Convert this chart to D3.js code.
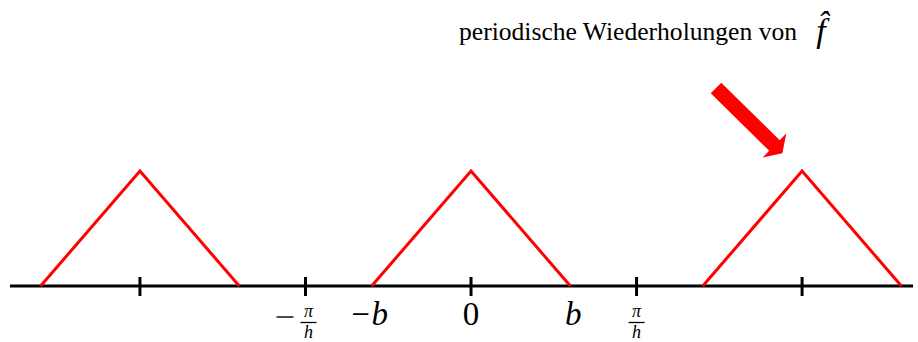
<!DOCTYPE html>
<html lang="en">
<head>
    <meta charset="UTF-8">
    <title>Periodische Wiederholungen</title>
    <script src="https://d3js.org/d3.v7.min.js"></script>
    <style>
        body { margin: 0; background: #fff; }
        text { font-family: 'Times New Roman', 'Liberation Serif', 'DejaVu Serif', serif; }
    </style>
</head>
<body>
    <script>
        // positions in units of pi/h
        const centers = [-2, 0, 2];
        const halfWidth = 0.6;          // b
        const peak = 1;
        const ticks = [-2, -1, 0, 1, 2];
        const titleText = 'periodische Wiederholungen von';

        const width = 918, height = 342;

        const svg = d3.select('body').append('svg')
            .attr('width', width)
            .attr('height', height);

        const xScale = d3.scaleLinear().domain([-2.785, 2.67]).range([10, 913]);
        const yScale = d3.scaleLinear().domain([0, 1]).range([286, 171]);

        // axis line
        svg.append('line')
            .attr('x1', xScale.range()[0]).attr('x2', xScale.range()[1])
            .attr('y1', yScale(0)).attr('y2', yScale(0))
            .attr('stroke', '#000').attr('stroke-width', 3);

        svg.selectAll('.tick')
            .data(ticks)
            .enter().append('line')
            .attr('class', 'tick')
            .attr('x1', d => xScale(d)).attr('x2', d => xScale(d))
            .attr('y1', yScale(0) - 9).attr('y2', yScale(0) + 10)
            .attr('stroke', '#000').attr('stroke-width', 3);

        // triangles
        const line = d3.line().x(d => xScale(d[0])).y(d => yScale(d[1]));
        svg.selectAll('.tri')
            .data(centers)
            .enter().append('path')
            .attr('class', 'tri')
            .attr('d', c => line([[c - halfWidth, 0], [c, peak], [c + halfWidth, 0]]))
            .attr('fill', 'none')
            .attr('stroke', '#ff0000')
            .attr('stroke-width', 3)
            .attr('stroke-linejoin', 'miter');

        // labels
        const baseY = 325;
        svg.append('text')
            .attr('x', xScale(0)).attr('y', baseY)
            .attr('text-anchor', 'middle').attr('font-size', 33)
            .text('0');
        svg.append('text')
            .attr('x', xScale(halfWidth) + 3).attr('y', baseY)
            .attr('text-anchor', 'middle').attr('font-size', 33).attr('font-style', 'italic')
            .text('b');
        svg.append('text')
            .attr('x', xScale(-halfWidth) - 3).attr('y', baseY)
            .attr('text-anchor', 'middle').attr('font-size', 33).attr('font-style', 'italic')
            .text('−b');

        function fraction(x) {
            const g = svg.append('g').attr('transform', `translate(${x},0)`);
            g.append('text')
                .attr('x', 0).attr('y', 317)
                .attr('text-anchor', 'middle').attr('font-size', 18).attr('font-style', 'italic')
                .text('π');
            g.append('line')
                .attr('x1', -8).attr('x2', 8)
                .attr('y1', 322.5).attr('y2', 322.5)
                .attr('stroke', '#000').attr('stroke-width', 1.3);
            g.append('text')
                .attr('x', 0).attr('y', 337.5)
                .attr('text-anchor', 'middle').attr('font-size', 18).attr('font-style', 'italic')
                .text('h');
            return g;
        }
        fraction(xScale(1));
        fraction(xScale(-1) + 3);
        svg.append('line')
            .attr('x1', xScale(-1) - 29).attr('x2', xScale(-1) - 12)
            .attr('y1', 317).attr('y2', 317)
            .attr('stroke', '#000').attr('stroke-width', 1.4);

        // title
        svg.append('text')
            .attr('x', 459).attr('y', 40)
            .attr('font-size', 25)
            .attr('textLength', 338)
            .attr('lengthAdjust', 'spacingAndGlyphs')
            .text(titleText);
        svg.append('text')
            .attr('x', 821).attr('y', 42)
            .attr('text-anchor', 'middle')
            .attr('font-size', 34).attr('font-style', 'italic')
            .text('f\u0302');

        // arrow pointing at the right copy
        const shaft = 7.5;
        const a = svg.append('g').attr('transform', 'translate(716,88) rotate(44.5)');
        a.append('path')
            .attr('d', `M0,${-shaft} L82,${-shaft} L82,-17 L93,0 L82,17 L82,${shaft} L0,${shaft} Z`)
            .attr('fill', '#ff0000');
    </script>
</body>
</html>
